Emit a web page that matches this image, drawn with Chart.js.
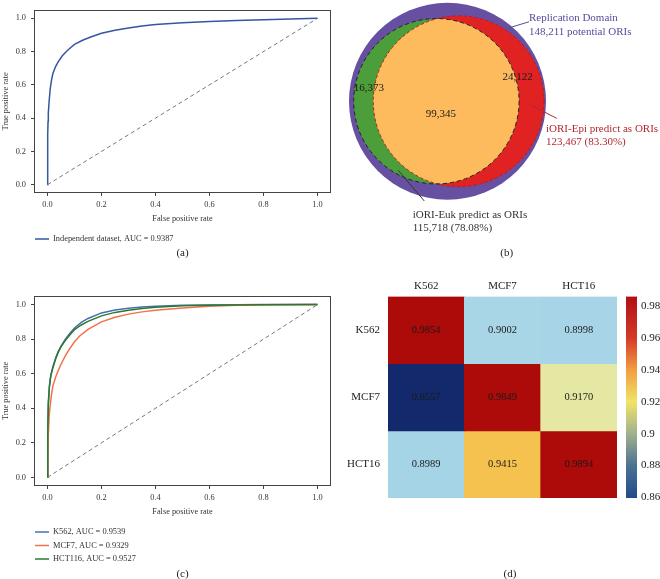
<!DOCTYPE html>
<html><head><meta charset="utf-8">
<script src="https://cdn.jsdelivr.net/npm/chart.js@4.4.0/dist/chart.umd.min.js"></script>
<style>
html,body{margin:0;padding:0;background:#fff;width:660px;height:579px;overflow:hidden}
canvas{position:absolute}
</style></head><body>
<canvas id="ca" width="332" height="262" style="left:0;top:0"></canvas>
<canvas id="cb" width="330" height="262" style="left:330px;top:0"></canvas>
<canvas id="cc" width="332" height="293" style="left:0;top:286px"></canvas>
<canvas id="cd" width="330" height="313" style="left:330px;top:266px"></canvas>
<script>
// ---------------- DATA ----------------
const rocTicks = [0, 0.2, 0.4, 0.6, 0.8, 1.0];

// (a) independent dataset ROC
const rocA_fpr = [0,0.0005,0.001,0.002,0.003,0.006,0.01,0.015,0.02,0.03,0.04,0.055,0.07,0.085,0.1,0.13,0.16,0.2,0.25,0.3,0.35,0.4,0.5,0.6,0.7,0.8,0.9,1.0];
const rocA_tpr = [0,0.2,0.3,0.38,0.43,0.5,0.575,0.63,0.668,0.71,0.74,0.775,0.80,0.823,0.843,0.868,0.888,0.91,0.928,0.942,0.953,0.962,0.973,0.981,0.987,0.992,0.996,1.0];
const rocA_label = 'Independent dataset, AUC = 0.9387';

// (c) cell-line ROC curves
const rocK562_fpr = [0,0.001,0.003,0.007,0.012,0.02,0.03,0.04,0.05,0.065,0.08,0.1,0.125,0.15,0.2,0.25,0.3,0.35,0.4,0.5,0.6,0.8,1.0];
const rocK562_tpr = [0,0.26,0.43,0.53,0.59,0.64,0.69,0.73,0.76,0.797,0.828,0.865,0.897,0.92,0.952,0.969,0.979,0.986,0.991,0.996,0.998,1.0,1.0];
const rocHCT116_fpr = [0,0.001,0.003,0.007,0.012,0.02,0.03,0.04,0.05,0.065,0.08,0.1,0.125,0.15,0.2,0.25,0.3,0.35,0.4,0.5,0.6,0.8,1.0];
const rocHCT116_tpr = [0,0.25,0.42,0.52,0.585,0.635,0.685,0.725,0.755,0.79,0.82,0.855,0.882,0.903,0.935,0.955,0.968,0.978,0.985,0.993,0.997,0.999,1.0];
const rocMCF7_fpr = [0,0.001,0.003,0.006,0.01,0.015,0.02,0.03,0.04,0.05,0.065,0.08,0.1,0.12,0.15,0.2,0.25,0.3,0.35,0.4,0.5,0.6,0.7,0.8,1.0];
const rocMCF7_tpr = [0,0.12,0.25,0.35,0.42,0.48,0.53,0.58,0.62,0.655,0.70,0.74,0.785,0.82,0.857,0.90,0.927,0.945,0.958,0.968,0.981,0.99,0.996,0.999,1.0];
const rocC_labels = ['K562, AUC = 0.9539', 'MCF7, AUC = 0.9329', 'HCT116, AUC = 0.9527'];

// (b) Venn
const vennLabels = ['Replication Domain', 'iORI-Epi predict as ORIs', 'iORI-Euk predict as ORIs'];
const vennCounts = [148211, 123467, 115718];          // total, Epi, Euk
const regionLabels = ['Euk only', 'Epi only', 'both'];
const regionCounts = [16373, 24122, 99345];

// (d) heatmap
const cellLines = ['K562', 'MCF7', 'HCT16'];
const aucMatrix = [
  [0.9854, 0.9002, 0.8998],
  [0.8557, 0.9849, 0.9170],
  [0.8989, 0.9415, 0.9894]
];
const colorbarTicks = [0.86, 0.88, 0.90, 0.92, 0.94, 0.96, 0.98];

// ---------------- STYLE ----------------
const SERIF = '"Liberation Serif", "Times New Roman", serif';
Chart.defaults.font.family = SERIF;
Chart.defaults.color = '#333';
Chart.defaults.animation = false;
const axisFont = {family: SERIF, size: 8.3};
const TXT = '#333';

const cellStops = [[0.8557,'#13296b'],[0.8989,'#a6d4e7'],[0.9002,'#a8d6e7'],[0.917,'#e4e8a3'],[0.9415,'#f6c24f'],[0.9849,'#ad0a0a'],[0.99,'#ad0a0a']];
const cbarStops = [[0.8596,'#234a8c'],[0.88,'#4c7292'],[0.90,'#a2b08d'],[0.92,'#f0e466'],[0.94,'#f29c42'],[0.96,'#d43a28'],[0.986,'#b10f14']];

function hex2rgb(h){return [parseInt(h.slice(1,3),16),parseInt(h.slice(3,5),16),parseInt(h.slice(5,7),16)];}
function colorFromStops(stops, v){
  if (v <= stops[0][0]) return stops[0][1];
  for (let i=1;i<stops.length;i++){
    if (v <= stops[i][0]){
      const t = (v-stops[i-1][0])/(stops[i][0]-stops[i-1][0]);
      const a = hex2rgb(stops[i-1][1]), b = hex2rgb(stops[i][1]);
      return 'rgb('+a.map((c,k)=>Math.round(c+(b[k]-c)*t)).join(',')+')';
    }
  }
  return stops[stops.length-1][1];
}

// ---------------- ROC panels ----------------
function pts(xs, ys){ return xs.map((x,i)=>({x:x, y:ys[i]})); }

function rocScales(){
  const grid = {drawOnChartArea:false, drawTicks:true, tickLength:3, color:'#444', lineWidth:1};
  return {
    x:{type:'linear', min:-0.05, max:1.05,
      afterBuildTicks:a=>{a.ticks = rocTicks.map(v=>({value:v}));},
      afterFit:a=>{a.height = 31;},
      ticks:{font:axisFont, color:TXT, padding:4, maxRotation:0, callback:v=>Number(v).toFixed(1)},
      grid:grid, border:{display:false},
      title:{display:true, text:'False positive rate', font:axisFont, color:TXT, padding:0}},
    y:{type:'linear', min:-0.05, max:1.05,
      afterBuildTicks:a=>{a.ticks = rocTicks.map(v=>({value:v}));},
      afterFit:a=>{a.width = 34;},
      ticks:{font:axisFont, color:TXT, padding:5, callback:v=>Number(v).toFixed(1)},
      grid:grid, border:{display:false},
      title:{display:true, text:'True positive rate', font:axisFont, color:TXT, padding:{top:0.5,bottom:0}}}
  };
}

const rocPanelPlugin = {
  id:'rocPanel',
  afterDraw(chart, args, o){
    const ctx = chart.ctx, ca = chart.chartArea;
    ctx.save();
    ctx.strokeStyle = '#444'; ctx.lineWidth = 1;
    ctx.strokeRect(Math.round(ca.left)+0.5, Math.round(ca.top)+0.5, Math.round(ca.right-ca.left)-1, Math.round(ca.bottom-ca.top)-1);
    const items = chart.data.datasets.filter(d=>d.label);
    items.sort((p,q)=>p.legendIndex-q.legendIndex);
    ctx.font = '8.4px ' + SERIF; ctx.textBaseline = 'middle'; ctx.textAlign = 'left';
    items.forEach((d,k)=>{
      const y = o.legendY + k*o.legendStep;
      ctx.strokeStyle = d.borderColor; ctx.lineWidth = 1.5; ctx.setLineDash([]);
      ctx.beginPath(); ctx.moveTo(ca.left+1, y); ctx.lineTo(ca.left+15, y); ctx.stroke();
      ctx.fillStyle = TXT; ctx.fillText(d.label, ca.left+19, y);
    });
    ctx.font = '11px ' + SERIF; ctx.textAlign = 'center'; ctx.fillStyle = '#222';
    ctx.fillText(o.caption, (ca.left+ca.right)/2, o.captionY);
    ctx.restore();
  }
};

function diag(){ return {data:pts([0,1],[0,1]), borderColor:'#777', borderWidth:1, borderDash:[4,3], pointRadius:0, order:0}; }

new Chart(document.getElementById('ca'), {
  type:'line',
  data:{datasets:[
    {label:rocA_label, legendIndex:0, data:pts(rocA_fpr, rocA_tpr), borderColor:'#3556a0', borderWidth:1.5, pointRadius:0, tension:0, order:1},
    diag()
  ]},
  options:{responsive:false, events:[], layout:{padding:{left:0, right:1, top:1, bottom:262-193-31}},
    plugins:{legend:{display:false}, tooltip:{enabled:false}, rocPanel:{legendY:239, legendStep:13.5, caption:'(a)', captionY:253}},
    scales:rocScales()},
  plugins:[rocPanelPlugin]
});

new Chart(document.getElementById('cc'), {
  type:'line',
  data:{datasets:[
    {label:rocC_labels[0], legendIndex:0, data:pts(rocK562_fpr, rocK562_tpr), borderColor:'#4a6fb0', borderWidth:1.5, pointRadius:0, tension:0, order:3},
    {label:rocC_labels[1], legendIndex:1, data:pts(rocMCF7_fpr, rocMCF7_tpr), borderColor:'#f4704a', borderWidth:1.5, pointRadius:0, tension:0, order:2},
    {label:rocC_labels[2], legendIndex:2, data:pts(rocHCT116_fpr, rocHCT116_tpr), borderColor:'#2a7a2e', borderWidth:1.5, pointRadius:0, tension:0, order:1},
    diag()
  ]},
  options:{responsive:false, events:[], layout:{padding:{left:0, right:1, top:7, bottom:293-200-31}},
    plugins:{legend:{display:false}, tooltip:{enabled:false}, rocPanel:{legendY:246, legendStep:13.5, caption:'(c)', captionY:288}},
    scales:rocScales()},
  plugins:[rocPanelPlugin]
});

// ---------------- Venn panel ----------------
const K = 0.95;  // drawing scale of inner sets (outer set radius = 1)
const rEpi = K*Math.sqrt(vennCounts[1]/vennCounts[0]);
const rEuk = K*Math.sqrt(vennCounts[2]/vennCounts[0]);
const targetOverlap = K*K*Math.PI*regionCounts[2]/vennCounts[0];
function lens(r1, r2, d){
  if (d >= r1+r2) return 0;
  if (d <= Math.abs(r1-r2)) return Math.PI*Math.min(r1,r2)**2;
  const a = r1*r1*Math.acos((d*d+r1*r1-r2*r2)/(2*d*r1));
  const b = r2*r2*Math.acos((d*d+r2*r2-r1*r1)/(2*d*r2));
  const c = 0.5*Math.sqrt((-d+r1+r2)*(d+r1-r2)*(d-r1+r2)*(d+r1+r2));
  return a+b-c;
}
let lo = Math.abs(rEpi-rEuk), hi = rEpi+rEuk;
for (let i=0;i<60;i++){ const m=(lo+hi)/2; if (lens(rEuk,rEpi,m) > targetOverlap) lo=m; else hi=m; }
const dSep = (lo+hi)/2;
const vennCenters = [{x:0,y:0},{x:dSep/2,y:0},{x:-dSep/2,y:0}];
const vennRadii = [1, rEpi, rEuk];
const vennColors = ['#6750a1', '#e02222', '#4c9e3a'];

function pxR(chart, r){ const s = chart.scales.x; return Math.abs(s.getPixelForValue(r)-s.getPixelForValue(0)); }

const vennAnno = [
  {lines:[vennLabels[0], vennCounts[0].toLocaleString('en-US')+' potential ORIs'], color:'#5a4a9c', text:{x:0.827,y:0.853}, line:[{x:0.614,y:0.751},{x:0.827,y:0.817}]},
  {lines:[vennLabels[1], vennCounts[1].toLocaleString('en-US')+' ('+(vennCounts[1]/vennCounts[0]*100).toFixed(2)+'%)'], color:'#b3282d', text:{x:1.0,y:-0.284}, line:[{x:0.855,y:-0.044},{x:1.109,y:-0.176}]},
  {lines:[vennLabels[2], vennCounts[2].toLocaleString('en-US')+' ('+(vennCounts[2]/vennCounts[0]*100).toFixed(2)+'%)'], color:'#333', text:{x:-0.353,y:-1.168}, line:[{x:-0.5,y:-0.711},{x:-0.236,y:-1.025}]}
];
const regionPos = [{x:-0.797,y:0.132},{x:0.711,y:0.244},{x:-0.066,y:-0.132}];

const vennPlugin = {
  id:'vennDraw',
  afterLayout(chart){
    chart.data.datasets.forEach((ds,i)=>{ ds.radius = pxR(chart, vennRadii[i]); });
  },
  beforeDatasetsDraw(chart){
    const ctx = chart.ctx, sx = chart.scales.x, sy = chart.scales.y;
    ctx.save();
    [0,1,2].forEach(i=>{
      const p = chart.data.datasets[i].data[0];
      ctx.beginPath(); ctx.arc(sx.getPixelForValue(p.x), sy.getPixelForValue(p.y), pxR(chart, vennRadii[i]), 0, 2*Math.PI);
      ctx.fillStyle = vennColors[i]; ctx.fill();
    });
    ctx.restore();
  },
  afterDatasetsDraw(chart){
    const ctx = chart.ctx, sx = chart.scales.x, sy = chart.scales.y;
    const P = p=>({x:sx.getPixelForValue(p.x), y:sy.getPixelForValue(p.y)});
    const cEpi = P(vennCenters[1]), cEuk = P(vennCenters[2]);
    const REpi = pxR(chart, rEpi), REuk = pxR(chart, rEuk);
    ctx.save();
    ctx.beginPath(); ctx.arc(cEpi.x, cEpi.y, REpi, 0, 2*Math.PI); ctx.clip();
    ctx.beginPath(); ctx.arc(cEuk.x, cEuk.y, REuk, 0, 2*Math.PI);
    ctx.fillStyle = '#fdbb5e'; ctx.fill();
    ctx.restore();
    ctx.save();
    ctx.lineWidth = 1;
    ctx.setLineDash([3,2.5]);
    ctx.strokeStyle = '#c41818';
    ctx.beginPath(); ctx.arc(cEpi.x, cEpi.y, REpi, 0, 2*Math.PI); ctx.stroke();
    ctx.setLineDash([4,3]);
    ctx.strokeStyle = '#222';
    ctx.beginPath(); ctx.arc(cEuk.x, cEuk.y, REuk, 0, 2*Math.PI); ctx.stroke();
    ctx.setLineDash([]);
    ctx.font = '11px ' + SERIF; ctx.fillStyle = '#1a1a1a'; ctx.textAlign = 'center'; ctx.textBaseline = 'middle';
    regionCounts.forEach((v,i)=>{ const p = P(regionPos[i]); ctx.fillText(v.toLocaleString('en-US'), p.x, p.y); });
    vennAnno.forEach(a=>{
      const p0 = P(a.line[0]), p1 = P(a.line[1]);
      ctx.strokeStyle = a.color; ctx.lineWidth = 1;
      ctx.beginPath(); ctx.moveTo(p0.x, p0.y); ctx.lineTo(p1.x, p1.y); ctx.stroke();
      const t = P(a.text);
      ctx.fillStyle = a.color; ctx.textAlign = 'left';
      a.lines.forEach((s,k)=>ctx.fillText(s, t.x, t.y + k*13.5));
    });
    ctx.fillStyle = '#222'; ctx.textAlign = 'center';
    ctx.fillText('(b)', 176.7, 253);
    ctx.restore();
  }
};

new Chart(document.getElementById('cb'), {
  type:'bubble',
  data:{datasets:vennLabels.map((lab,i)=>({
    label:lab, data:[vennCenters[i]], radius:1, backgroundColor:vennColors[i], borderWidth:0, order:3-i, clip:false
  }))},
  options:{responsive:false, events:[], layout:{padding:{left:19, right:114, top:1.5, bottom:63.5}},
    plugins:{legend:{display:false}, tooltip:{enabled:false}},
    scales:{x:{type:'linear', min:-1, max:1, display:false}, y:{type:'linear', min:-1, max:1, display:false}}},
  plugins:[vennPlugin]
});

// ---------------- Heatmap panel ----------------
const heatPlugin = {
  id:'heatDraw',
  afterDatasetsDraw(chart){
    const ctx = chart.ctx, ca = chart.chartArea, cb = chart.scales.cb;
    ctx.save();
    ctx.font = '10.5px ' + SERIF; ctx.fillStyle = '#1a1a1a'; ctx.textAlign = 'center'; ctx.textBaseline = 'middle';
    chart.data.datasets.forEach((ds,i)=>{
      chart.getDatasetMeta(i).data.forEach((el,j)=>{
        ctx.fillText(aucMatrix[i][j].toFixed(4), el.x, (el.y+el.base)/2);
      });
    });
    const yTop = cb.getPixelForValue(cb.max), yBot = cb.getPixelForValue(cb.min);
    const g = ctx.createLinearGradient(0, yBot, 0, yTop);
    cbarStops.forEach(s=>g.addColorStop(Math.min(1,Math.max(0,(s[0]-cb.min)/(cb.max-cb.min))), s[1]));
    ctx.fillStyle = g;
    ctx.fillRect(ca.right+9, yTop, 11, yBot-yTop);
    ctx.font = '11px ' + SERIF; ctx.fillStyle = '#222';
    ctx.fillText('(d)', 180, 308);
    ctx.restore();
  }
};

const heatFont = {family:SERIF, size:11};
new Chart(document.getElementById('cd'), {
  type:'bar',
  data:{labels:cellLines, datasets:cellLines.map((row,i)=>({
    label:row,
    data:aucMatrix[i].map(()=>[i, i+1]),
    backgroundColor:aucMatrix[i].map(v=>colorFromStops(cellStops, v)),
    borderWidth:0, barPercentage:1, categoryPercentage:1, grouped:false
  }))},
  options:{responsive:false, events:[], layout:{padding:{left:0, right:0, top:0, bottom:313-232}},
    plugins:{legend:{display:false}, tooltip:{enabled:false}},
    scales:{
      x:{type:'category', position:'top', afterFit:a=>{a.height=26;},
         grid:{display:false, drawTicks:false}, border:{display:false},
         ticks:{font:heatFont, color:'#222', padding:4}},
      y:{type:'linear', min:0, max:cellLines.length, reverse:true, afterFit:a=>{a.width=58;},
         afterBuildTicks:a=>{a.ticks = cellLines.map((_,i)=>({value:i+0.5}));},
         grid:{display:false, drawTicks:false}, border:{display:false},
         ticks:{font:heatFont, color:'#222', padding:8, callback:v=>cellLines[Math.floor(v)]}},
      cb:{type:'linear', position:'right', min:0.8596, max:0.986, afterFit:a=>{a.width=43;},
         afterBuildTicks:a=>{a.ticks = colorbarTicks.map(v=>({value:v}));},
         grid:{display:false, drawTicks:false}, border:{display:false},
         ticks:{font:heatFont, color:'#222', padding:24, callback:v=>String(Number(v.toFixed(2)))}}
    }},
  plugins:[heatPlugin]
});
</script>
</body></html>
